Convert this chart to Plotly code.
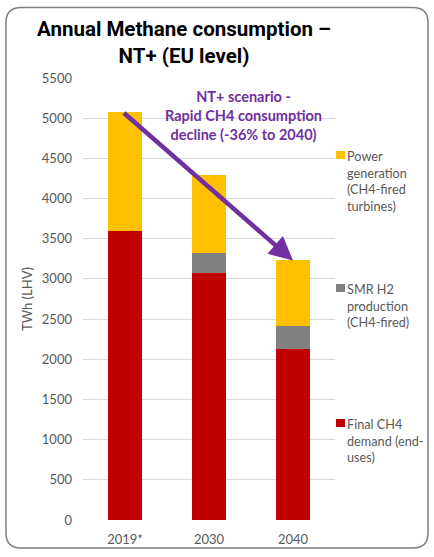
import plotly.graph_objects as go

# ---- data ----
categories = ["2019*", "2030", "2040"]
final_ch4 = [3590, 3075, 2125]
smr_h2 = [0, 245, 295]
power_gen = [1490, 970, 810]

series_names = [
    "Power<br>generation<br>(CH4-fired<br>turbines)",
    "SMR H2<br>production<br>(CH4-fired)",
    "Final CH4<br>demand (end-<br>uses)",
]
y_ticks = [0, 500, 1000, 1500, 2000, 2500, 3000, 3500, 4000, 4500, 5000, 5500]

RED, GREY, YELLOW, PURPLE = "#C00000", "#808080", "#FFC000", "#7030A0"
TXT = "#595959"

W, H = 434, 557
L, R, T, B = 83, 335, 78, 520


def px(x):
    return (x - L) / (R - L)


def py(y):
    return (B - y) / (B - T)


fig = go.Figure()
for vals, col, nm in [(final_ch4, RED, series_names[2]),
                      (smr_h2, GREY, series_names[1]),
                      (power_gen, YELLOW, series_names[0])]:
    fig.add_trace(go.Bar(x=categories, y=vals, marker=dict(color=col, line=dict(width=0)),
                         name=nm.replace("<br>", " "), showlegend=False))

totals = [a + b + c for a, b, c in zip(final_ch4, smr_h2, power_gen)]

annotations = []
# arrow from 2019 total to 2040 total
annotations.append(dict(x=2, y=totals[2], xref="x", yref="y",
                        ax=-0.03, ay=totals[0], axref="x", ayref="y",
                        showarrow=True, arrowhead=2, arrowsize=1.05, arrowwidth=4.5,
                        arrowcolor=PURPLE, standoff=0, startstandoff=0, text=""))
annotations.append(dict(x=px(243), y=py(115), xref="paper", yref="paper",
                        xanchor="center", yanchor="middle",
                        text="<b>NT+ scenario -<br>Rapid CH4 consumption<br>decline (-36% to 2040)</b>",
                        showarrow=False, align="center",
                        font=dict(family="Lato", size=14.5, color=PURPLE)))

# manual legend
shapes = []
leg_y = [155, 288, 423]
leg_cols = [YELLOW, GREY, RED]
for nm, yy, col in zip(series_names, leg_y, leg_cols):
    shapes.append(dict(type="rect", xref="paper", yref="paper",
                       x0=px(336), x1=px(345), y0=py(yy - 4), y1=py(yy + 4),
                       fillcolor=col, line=dict(width=0)))
    annotations.append(dict(x=px(345), y=py(yy - 9), xref="paper", yref="paper",
                            xanchor="left", yanchor="top", align="left", showarrow=False,
                            text=nm, font=dict(family="Lato", size=12.7, color=TXT)))

# rounded border
x0, x1, y0, y1, r = 6, 428, 7.5, 548, 15
pts = [
    ("M", (x0 + r, y0)), ("L", (x1 - r, y0)), ("Q", (x1, y0), (x1, y0 + r)),
    ("L", (x1, y1 - r)), ("Q", (x1, y1), (x1 - r, y1)),
    ("L", (x0 + r, y1)), ("Q", (x0, y1), (x0, y1 - r)),
    ("L", (x0, y0 + r)), ("Q", (x0, y0), (x0 + r, y0)),
]
path = ""
for seg in pts:
    path += seg[0] + " " + " ".join(f"{px(p[0]):.5f},{py(p[1]):.5f}" for p in seg[1:]) + " "
path += "Z"
shapes.append(dict(type="path", xref="paper", yref="paper", path=path,
                   line=dict(color="#7f7f7f", width=1.5), fillcolor="rgba(0,0,0,0)"))

fig.update_layout(
    width=W, height=H,
    margin=dict(l=L, r=W - R, t=T, b=H - B, autoexpand=False),
    barmode="stack", bargap=0.607,
    plot_bgcolor="white", paper_bgcolor="white",
    font=dict(family="Lato", color=TXT, size=13),
    title=dict(text="<b>Annual Methane consumption –<br>NT+ (EU level)</b>",
               xref="container", yref="container", x=184 / W, y=1 - 36 / H,
               xanchor="center", yanchor="middle",
               font=dict(family="Roboto", size=20.5, color="black")),
    xaxis=dict(showgrid=False, showline=False, ticks="", ticklabelstandoff=10,
               tickfont=dict(family="Lato", size=13, color=TXT)),
    yaxis=dict(range=[0, 5500], tickvals=y_ticks, showgrid=True, gridcolor="#d9d9d9",
               gridwidth=1, zeroline=False, showline=False, ticks="",
               ticklabelstandoff=10,
               tickfont=dict(family="Lato", size=13, color=TXT),
               title=dict(text="TWh (LHV)", standoff=6,
                          font=dict(family="Lato", size=13, color=TXT))),
    annotations=annotations,
    shapes=shapes,
    showlegend=False,
)

fig.write_html("out.html", config={"displayModeBar": False},
               post_script="document.body.style.margin='0';document.body.style.overflow='hidden';")
